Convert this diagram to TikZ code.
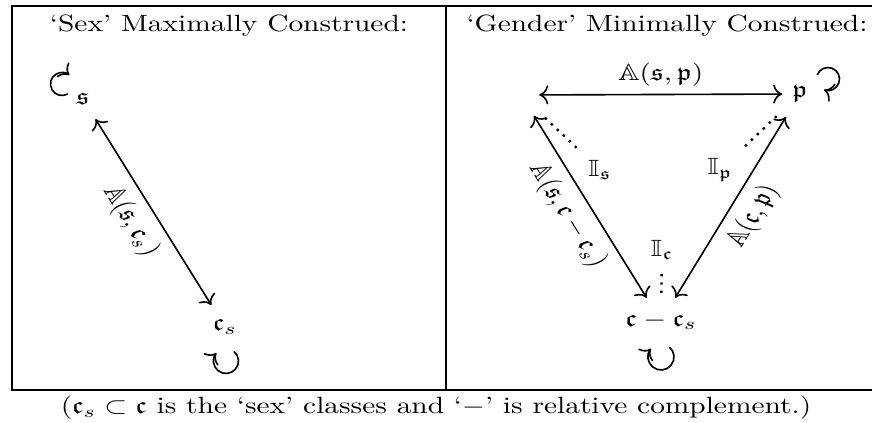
\documentclass[tikz,border=0pt]{standalone}
\usepackage{amsmath,amssymb}
\usepackage{tikz}
\usetikzlibrary{arrows.meta}

\tikzset{
    every node/.style={yscale=0.8},
    >={Computer Modern Rightarrow[scale=1.1]},
    pairarrow/.style={<->, line width=0.55pt, shorten <=2.5pt, shorten >=2.5pt},
    idline/.style={dotted, thick, shorten <=2pt, shorten >=2pt},
    selfloop/.style={->, line width=0.55pt}
}

\begin{document}
\begin{tikzpicture}[x=0.34pt, y=0.34pt]
    \useasboundingbox (0,0) rectangle (872,423);

    % Table frame
    \draw (12,33) rectangle (888,417);
    \draw (446,33) -- (446,417);

    % Headings
    \node (headl) at (229,397) {‘Sex’ Maximally Construed:};
    \node (headr) at (667,397) {‘Gender’ Minimally Construed:};

    % Left panel
    \node (s1) at (83,324) {$\mathfrak{s}$};
    \node (cs1) at (225,96) {$\mathfrak{c}_s$};
    \draw[pairarrow] (s1) -- node[midway, anchor=north, rotate=-63.4] (a1) {$\mathbb{A}(\mathfrak{s},\mathfrak{c}_s)$} (cs1);
    \draw[selfloop] ([shift={(-21,15)}]s1.center) ++(-60:11.5) arc[start angle=-60, end angle=-310, radius=11.5];
    \draw[selfloop] ([shift={(1,-34)}]cs1.center) ++(50:12.5) arc[start angle=50, end angle=-220, radius=12.5];

    % Right panel
    \node[minimum width=12pt, minimum height=12pt] (s2) at (521,328) {};
    \node (p2) at (800,329) {$\mathfrak{p}$};
    \node (c2) at (661,102) {$\mathfrak{c}-\mathfrak{c}_s$};
    \draw[<->, line width=0.55pt] (s2) -- node[midway, above] (a2) {$\mathbb{A}(\mathfrak{s},\mathfrak{p})$} (p2);
    \draw[pairarrow] (s2) -- node[midway, anchor=north, rotate=-63.4] (a3) {$\mathbb{A}(\mathfrak{s},\mathfrak{c}-\mathfrak{c}_s)$} (c2);
    \draw[pairarrow] (c2) -- node[midway, anchor=north, rotate=63.7] (a4) {$\mathbb{A}(\mathfrak{c},\mathfrak{p})$} (p2);
    \draw[selfloop] ([shift={(28,15)}]p2.center) ++(160:11.5) arc[start angle=160, end angle=-110, radius=11.5];
    \draw[selfloop] ([shift={(0,-36)}]c2.center) ++(50:13) arc[start angle=50, end angle=-220, radius=13];

    % Identities
    \node (Is) at (600,253) {$\mathbb{I}_{\mathfrak{s}}$};
    \node (Ip) at (720,253) {$\mathbb{I}_{\mathfrak{p}}$};
    \node (Ic) at (662,173) {$\mathbb{I}_{\mathfrak{c}}$};
    \draw[idline] (Is) -- (s2);
    \draw[idline] (Ip) -- (p2);
    \draw[idline] (Ic) -- (c2);

    % Caption
    \node (note) at (436,15) {($\mathfrak{c}_s \subset \mathfrak{c}$ is the ‘sex’ classes and ‘$-$’ is relative complement.)};
\end{tikzpicture}
\end{document}
